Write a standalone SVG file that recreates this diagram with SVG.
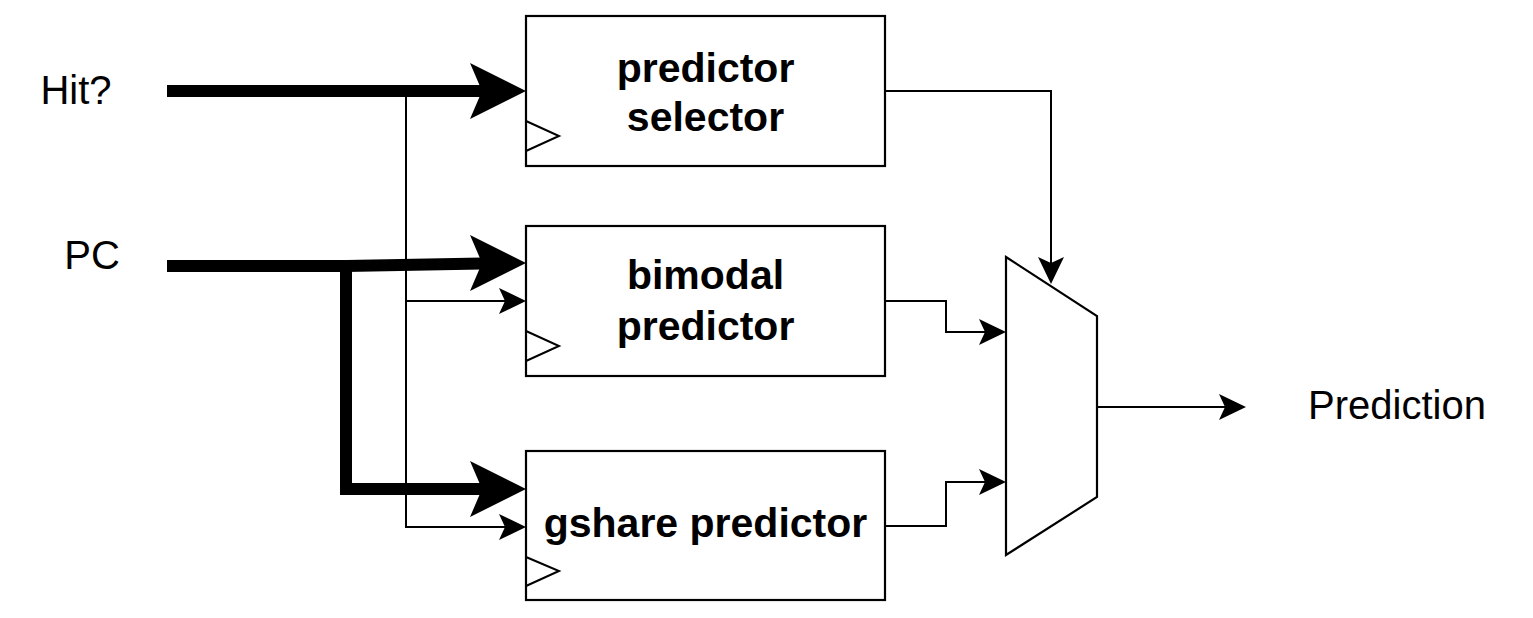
<svg xmlns="http://www.w3.org/2000/svg" width="1533" height="618" viewBox="0 0 1533 618">
<style>
.box{fill:#fff;stroke:#000;stroke-width:2.2}
.clk{fill:none;stroke:#000;stroke-width:2}
.lbl{font-family:"Liberation Sans",Arial,sans-serif;font-size:40px;fill:#000}
.blbl{font-family:"Liberation Sans",Arial,sans-serif;font-size:41px;font-weight:bold;fill:#000;text-anchor:middle}
.thin{fill:none;stroke:#000;stroke-width:2}
.thick{fill:none;stroke:#000;stroke-width:12;stroke-linejoin:miter}
.head{fill:#000;stroke:none}
</style>
<rect width="1533" height="618" fill="#fff"/>
<g id="labels">
<text class="lbl" x="76" y="104" text-anchor="middle">Hit?</text>
<text class="lbl" x="92" y="269" text-anchor="middle">PC</text>
<text class="lbl" x="1397" y="419" text-anchor="middle">Prediction</text>
</g>
<g id="connectors">
<path class="thick" d="M167 91 L482 91"/>
<polygon class="head" points="526,91 470,63 482,91 470,119"/>
<path class="thick" d="M167 266 L346 266 L482 263.5"/>
<polygon class="head" points="526,263 470,235 482,263 470,291"/>
<path class="thick" d="M346 266 L346 489 L482 489"/>
<polygon class="head" points="526,489 470,461 482,489 470,517"/>
<path class="thin" d="M406 96 L406 527 L510 527"/>
<polygon class="head" points="526,527 499,514 505,527 499,540"/>
<path class="thin" d="M406 301 L510 301"/>
<polygon class="head" points="526,301 499,288 505,301 499,314"/>
<path class="thin" d="M885 91 L1051 91 L1051 268"/>
<polygon class="head" points="1051,284 1038,257 1051,263 1064,257"/>
<path class="thin" d="M885 301 L946 301 L946 332 L990 332"/>
<polygon class="head" points="1006,332 979,319 985,332 979,345"/>
<path class="thin" d="M885 526 L946 526 L946 482 L990 482"/>
<polygon class="head" points="1006,482 979,469 985,482 979,495"/>
<path class="thin" d="M1097 407 L1230 407"/>
<polygon class="head" points="1246,407 1219,394 1225,407 1219,420"/>
</g>
<g id="selector">
<rect class="box" x="526" y="16" width="359" height="150"/>
<polyline class="clk" points="526,121 559,136 526,151"/>
<text class="blbl" x="705.5" y="82">predictor</text>
<text class="blbl" x="705.5" y="131">selector</text>
</g>
<g id="bimodal">
<rect class="box" x="526" y="226" width="359" height="150"/>
<polyline class="clk" points="526,331 559,346 526,361"/>
<text class="blbl" x="705.5" y="289">bimodal</text>
<text class="blbl" x="705.5" y="340">predictor</text>
</g>
<g id="gshare">
<rect class="box" x="526" y="451" width="359" height="149"/>
<polyline class="clk" points="526,557 559,571 526,586"/>
<text class="blbl" x="705.5" y="537">gshare predictor</text>
</g>
<g id="mux">
<polygon class="box" points="1006,257 1097,316 1097,497 1006,555"/>
</g>
</svg>
